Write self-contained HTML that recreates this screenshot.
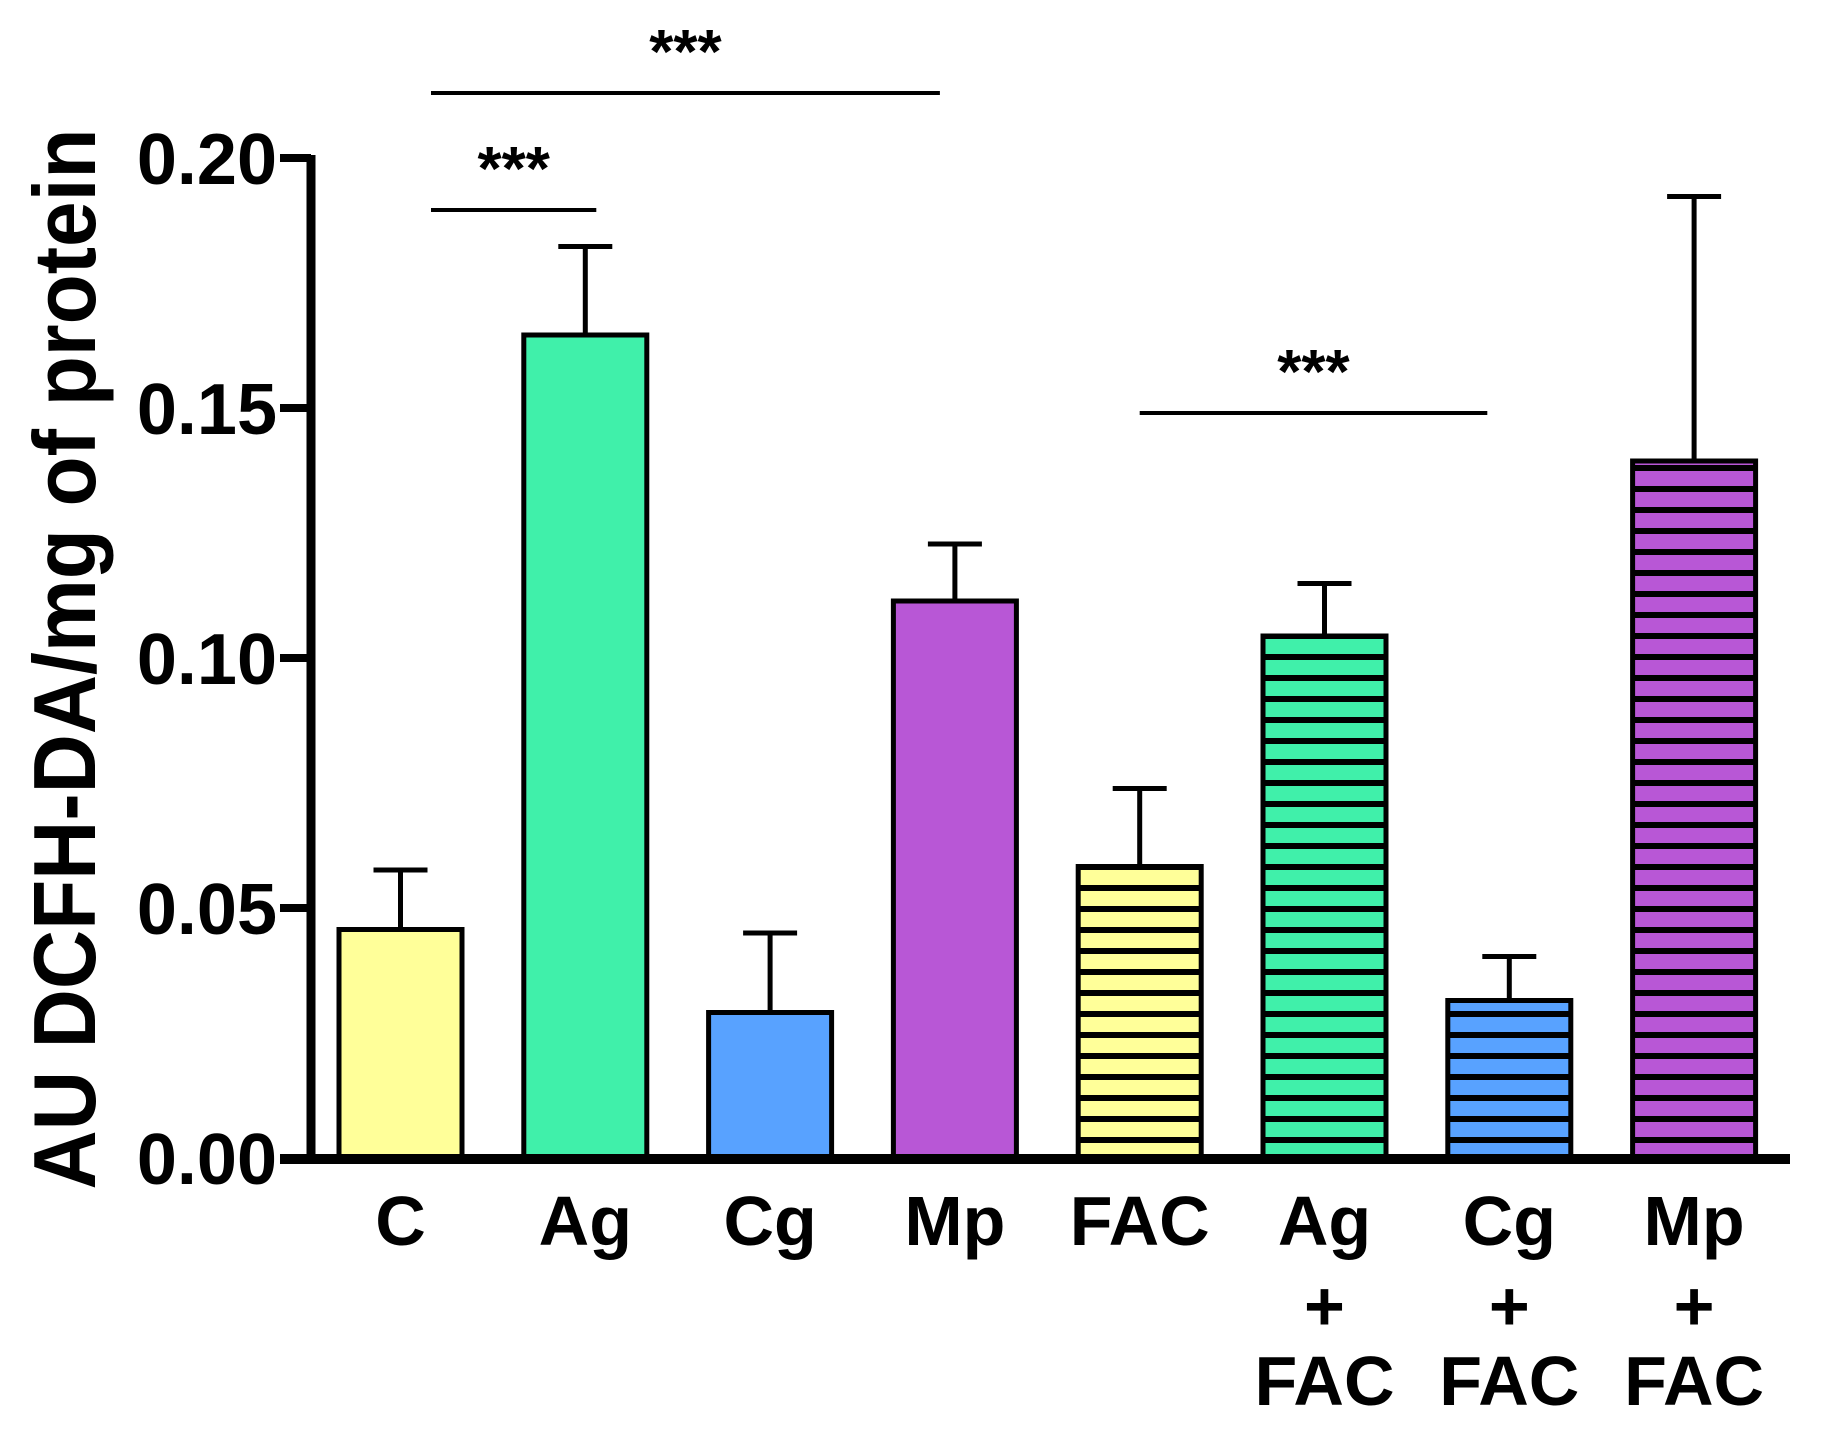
<!DOCTYPE html>
<html><head><meta charset="utf-8"><style>
html,body{margin:0;padding:0;background:#fff}
svg{display:block}
text{font-family:"Liberation Sans",Arial,sans-serif;font-weight:bold;fill:#000}
</style></head><body>
<svg id="chart" width="1829" height="1437" viewBox="0 0 1829 1437" xmlns="http://www.w3.org/2000/svg">
<defs>
<pattern id="stripes" patternUnits="userSpaceOnUse" width="20" height="21" y="1158">
<rect x="0" y="0" width="20" height="6" fill="#000"/>
</pattern>
</defs>
<g id="plot"></g>
</svg>
<script>
const categories = ["C","Ag","Cg","Mp","FAC","Ag+FAC","Cg+FAC","Mp+FAC"];
const means = [0.0457,0.1646,0.0291,0.1114,0.0583,0.1044,0.0315,0.1394];
const errors = [0.0119,0.0177,0.0159,0.0114,0.0156,0.0105,0.0088,0.0529];
const colors = ["#FFFF99","#40F0AA","#58A2FF","#B857D6","#FFFF99","#40F0AA","#58A2FF","#B857D6"];
const striped = [false,false,false,false,true,true,true,true];
const yTicks = [0,0.05,0.10,0.15,0.20];
const yTickLabels = ["0.00","0.05","0.10","0.15","0.20"];
const sigPairs = [[0,3],[0,1],[4,6]];

const NS="http://www.w3.org/2000/svg";
const g=document.getElementById('plot');
const X0=311, Y0=1158, YPX=5000;
const first=339, pitch=184.8, bw=123;
function y(v){return Y0 - v*YPX;}
function xl(i){return first+i*pitch;}
function xc(i){return xl(i)+bw/2;}
function mk(tag,attrs){const e=document.createElementNS(NS,tag);for(const k in attrs)e.setAttribute(k,attrs[k]);g.appendChild(e);return e;}

categories.forEach((c,i)=>{
  const top=y(means[i]);
  const eb=mk('line',{x1:xc(i),x2:xc(i),y1:top,y2:y(means[i]+errors[i]),stroke:'#000','stroke-width':5});
  
  
  const cap=mk('line',{x1:xc(i)-27,x2:xc(i)+27,y1:y(means[i]+errors[i]),y2:y(means[i]+errors[i]),stroke:'#000','stroke-width':5});
  
  
  const r=mk('rect',{x:xl(i),y:top,width:bw,height:Y0-top,fill:colors[i],stroke:'#000','stroke-width':5});
  
  
  if(striped[i]){
    const s=mk('rect',{x:xl(i),y:top,width:bw,height:Y0-top,fill:'url(#stripes)'});
    
    
  }
});
const ya=mk('line',{x1:X0,x2:X0,y1:y(0.2)-3,y2:Y0+5,stroke:'#000','stroke-width':9});


const xa=mk('line',{x1:280,x2:1790,y1:Y0+1,y2:Y0+1,stroke:'#000','stroke-width':10});


yTicks.forEach((t,i)=>{
  const tk=mk('line',{x1:280,x2:X0,y1:y(t),y2:y(t),stroke:'#000','stroke-width':8});
  
  
  const tl=mk('text',{x:277,y:y(t)+26,'text-anchor':'end','font-size':72});
  tl.textContent=yTickLabels[i];
  
  
});
categories.forEach((c,i)=>{
  const parts=c.split('+');
  const t=mk('text',{x:xc(i),y:1245,'text-anchor':'middle','font-size':70});
  t.textContent=parts[0];
  
  
  if(parts.length>1){
    const p=mk('text',{x:xc(i),y:1330,'text-anchor':'middle','font-size':70});
    p.textContent='+';
    
    
    const f=mk('text',{x:xc(i),y:1405,'text-anchor':'middle','font-size':70});
    f.textContent=parts[1];
    
    
  }
});
const sigY=[93,210,413];
const sigStartOff=[92-61.5+61.5,92,0];
sigPairs.forEach((p,k)=>{
  let x1,x2;
  if(k==0){x1=xl(p[0])+92;x2=xc(p[1])-15;}
  else if(k==1){x1=xl(p[0])+92;x2=xc(p[1])+11;}
  else {x1=xc(p[0]);x2=xc(p[1])-22;}
  const l=mk('line',{x1:x1,x2:x2,y1:sigY[k],y2:sigY[k],stroke:'#000','stroke-width':4});
  
  
  const s=mk('text',{x:(x1+x2)/2,y:sigY[k]-20,'text-anchor':'middle','font-size':62,'font-weight':'normal'});
  s.textContent='***';
  
  
});
const yt=mk('text',{x:0,y:0,'text-anchor':'middle','font-size':88,transform:'translate(95,659) rotate(-90)',textLength:1061,lengthAdjust:'spacingAndGlyphs'});
yt.textContent='AU DCFH-DA/mg of protein';


</script>
</body></html>
